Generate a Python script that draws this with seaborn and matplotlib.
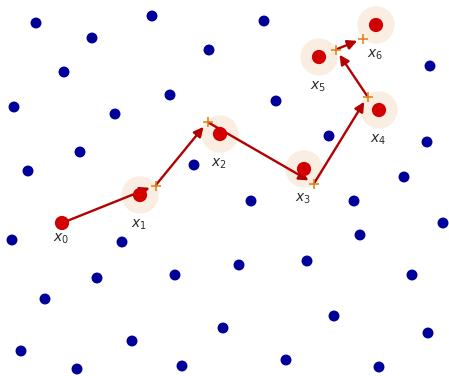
import matplotlib
matplotlib.use("Agg")
import matplotlib.pyplot as plt
import seaborn as sns
import pandas as pd

sns.set_theme(style="white")
plt.rcParams["font.family"] = ["DejaVu Sans"]

# Background sample points (pixel-like coordinates, y grows downward)
bg_x = [36, 152, 264, 92, 209, 64, 430, 14, 115, 170, 276, 80, 28, 194, 329, 427,
        404, 251, 354, 443, 12, 122, 360, 97, 175, 239, 307, 412, 45, 223, 334,
        428, 132, 21, 77, 182, 286, 379]
bg_y = [23, 16, 21, 38, 50, 72, 66, 107, 114, 95, 101, 152, 171, 165, 136, 142,
        177, 201, 201, 223, 240, 242, 235, 278, 275, 265, 261, 275, 299, 328, 316,
        333, 341, 351, 369, 366, 360, 367]

# Iterates x_0 ... x_6
it_x = [62, 140, 220, 304, 379, 319, 376]
it_y = [223, 195, 134, 169, 110, 57, 25]
it_labels = ["$x_0$", "$x_1$", "$x_2$", "$x_3$", "$x_4$", "$x_5$", "$x_6$"]

# Look-ahead points (+) for steps 1 ... 6
la_x = [155.5, 207.5, 314, 367.5, 336, 363]
la_y = [185.5, 122, 183.5, 96.5, 49.5, 38.5]

bg = pd.DataFrame({"x": bg_x, "y": bg_y})
it = pd.DataFrame({"x": it_x, "y": it_y})
la = pd.DataFrame({"x": la_x, "y": la_y})

fig = plt.figure(figsize=(4.49, 3.76), dpi=100)
ax = fig.add_axes([0, 0, 1, 1])

# halos around x_1 ... x_6
sns.scatterplot(data=it.iloc[1:], x="x", y="y", s=720, color="#faeee3",
                edgecolor="none", ax=ax, zorder=1)
sns.scatterplot(data=bg, x="x", y="y", s=62, color="#000099",
                edgecolor="none", ax=ax, zorder=2)

# steps: x_0 -> +_1, then +_k -> +_{k+1}
starts = [(it_x[0], it_y[0])] + list(zip(la_x[:-1], la_y[:-1]))
ends = list(zip(la_x, la_y))
for (sx, sy), (ex, ey) in zip(starts, ends):
    ax.annotate("", xy=(ex, ey), xytext=(sx, sy),
                arrowprops=dict(arrowstyle="-|>", color="#b30000", lw=1.7,
                                mutation_scale=14, shrinkA=1, shrinkB=4.5),
                zorder=3)

sns.scatterplot(data=it, x="x", y="y", s=105, color="#d20000",
                edgecolor="none", ax=ax, zorder=4)
sns.scatterplot(data=la, x="x", y="y", s=55, marker="+", color="#e07d10",
                linewidth=1.1, ax=ax, zorder=5)

for i, (x, y, lab) in enumerate(zip(it_x, it_y, it_labels)):
    dy = 16 if i == 0 else 30
    ax.text(x - 1, y + dy, lab, ha="center", va="center", fontsize=10,
            color="#2b2b2b")

ax.set_xlim(0, 449)
ax.set_ylim(376, 0)
ax.set_axis_off()
fig.savefig("out.png", dpi=100)
